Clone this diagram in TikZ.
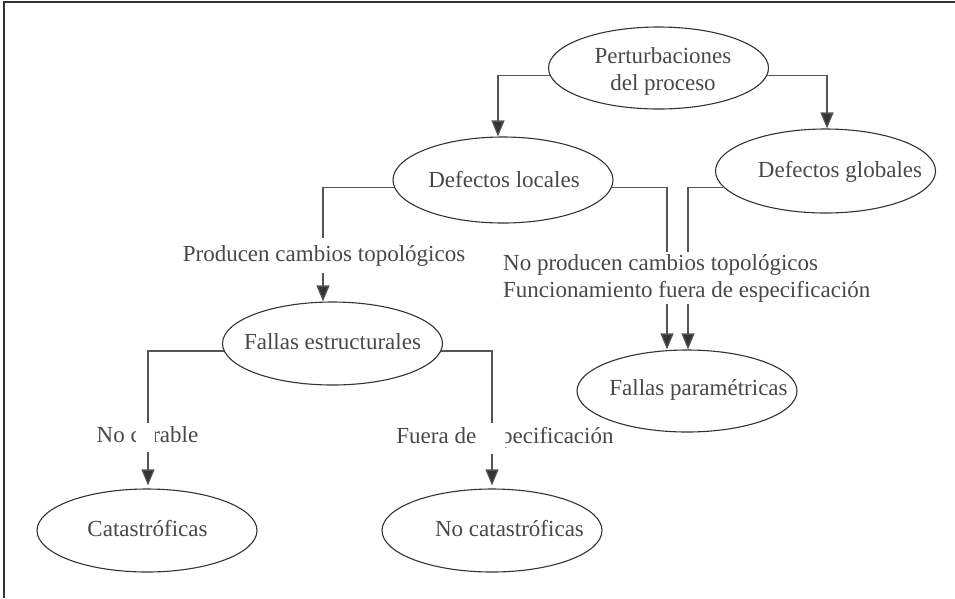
\documentclass[tikz,border=0pt]{standalone}
\usepackage{fontspec}
\setmainfont{Liberation Serif}
\usetikzlibrary{shapes.geometric,arrows.meta}
\definecolor{linec}{HTML}{555555}
\definecolor{txtc}{HTML}{484848}
\definecolor{framec}{HTML}{333333}
\begin{document}
\begin{tikzpicture}[x=1pt,y=-1pt,
  ell/.style={ellipse,draw=framec,line width=1.1pt,inner sep=0pt,minimum width=220pt,minimum height=83pt},
  txt/.style={text=txtc,font=\fontsize{23}{27}\selectfont,inner sep=0pt,text height=16pt,text depth=5pt},
  conn/.style={draw=linec,line width=1.3pt},
  arr/.style={conn,-{Triangle[length=16pt,width=13pt,fill=framec]}},
  lab/.style={fill=white,text=txtc,font=\fontsize{23}{27}\selectfont,inner xsep=2pt,inner ysep=7pt,text height=16pt,text depth=5pt},
  patch/.style={fill=white,draw=none}]
\useasboundingbox (0,0) rectangle (955,598);
% frame (top and left edges)
\draw[framec,line width=1.5pt] (4,598) -- (4,2) -- (955,2);

% ellipses
\node[ell,minimum height=82pt] (pert) at (658.5,68) {};
\node[ell,minimum height=86pt] (dl) at (503,180) {};
\node[ell,minimum height=84pt] (dg) at (825.5,171) {};
\node[ell] (fe) at (332.5,343.5) {};
\node[ell,minimum height=82pt] (fp) at (687,391) {};
\node[ell] (cat) at (147,530.5) {};
\node[ell] (nc) at (492,530.5) {};

% texts inside ellipses
\node[text=txtc,font=\fontsize{23}{27}\selectfont,align=center,inner sep=0pt] (pertt) at (663,71.5) {Perturbaciones\\del proceso};
\node[txt] (dlt) at (504,182) {Defectos locales};
\node[txt] (dgt) at (840,172) {Defectos globales};
\node[txt] (fet) at (332.5,344) {Fallas estructurales};
\node[txt] (fpt) at (698.5,390) {Fallas paramétricas};
\node[txt] (catt) at (147.5,531) {Catastróficas};
\node[txt] (nct) at (509.5,531) {No catastróficas};

% connectors
\draw[arr] (pert.184) -| ([xshift=-5pt]dl.north);
\draw[arr] (pert.356) -| ([xshift=1.5pt]dg.north);
\draw[arr] (dl.184) -| ([xshift=-9.5pt]fe.north);
\draw[arr] (dl.356) -| ([xshift=-20pt]fp.north);
\draw[arr] (dg.189) -| ([xshift=1pt]fp.north);
\draw[arr,shorten >=3pt] (fe.184) -| ([xshift=1pt]cat.north);
\draw[arr,shorten >=3pt] (fe.356) -| (nc.north);

% connector labels (mask the lines)
\node[lab] (lprod) at (324,255.5) {Producen cambios topológicos};
\node[fill=white,text=txtc,font=\fontsize{23}{27}\selectfont,align=left,anchor=west,inner xsep=2pt,inner ysep=2.5pt] (lnoprod) at (501,278) {No producen cambios topológicos\\Funcionamiento fuera de especificación};
\node[lab,inner ysep=4pt] (lnocur) at (147.5,437) {No curable};
\node[lab,inner ysep=5pt] (lfuera) at (505,438) {Fuera de especificación};

% white patches hiding part of the labels, as in the reference
\fill[patch] (136,423) rectangle (155,452);
\fill[patch] (477,423) rectangle (505,452);
\end{tikzpicture}
\end{document}
